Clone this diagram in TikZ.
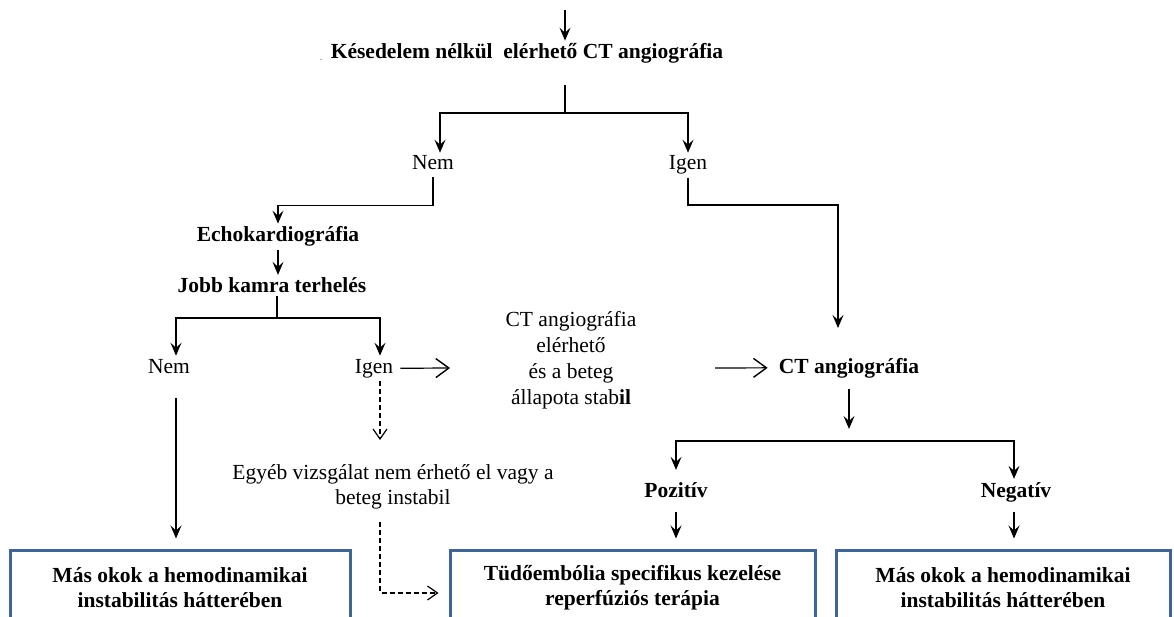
\documentclass[tikz,border=0pt]{standalone}
\usepackage{fontspec}
\setmainfont{Liberation Serif}
\usetikzlibrary{arrows.meta}
\definecolor{boxblue}{HTML}{3F6497}
\begin{document}
\begin{tikzpicture}[x=1pt,y=-1pt,
  lbl/.style={font=\fontsize{21.5}{25}\selectfont, inner sep=3pt, anchor=base},
  blbl/.style={lbl, font=\fontsize{21.5}{25}\selectfont\bfseries},
  ln/.style={line width=1.2pt},
  arr/.style={ln, -{Stealth[length=13pt,width=11pt,inset=5pt]}},
  harr/.style={ln, -{Straight Barb[length=13pt,width=19pt,line width=1.4pt]}},
  darr/.style={ln, line width=1.1pt, dash pattern=on 5pt off 3pt,
    -{Straight Barb[length=10pt,width=14pt,line width=1.2pt]}},
  outbox/.style={draw=boxblue, line width=3pt, fill=white, minimum height=76pt,
    align=center, font=\fontsize{21.5}{25}\selectfont\bfseries, inner sep=0pt},
]
\useasboundingbox (0,0) rectangle (1174,617);
\clip (0,0) rectangle (1174,617);

% text nodes
\node[blbl] (title) at (527,59) {Késedelem nélkül\ \ elérhető CT angiográfia};
\node[font=\fontsize{8}{8}\selectfont, inner sep=0pt] (dot) at (321,60) {.};
\node[lbl] (nem1) at (433,170) {Nem};
\node[lbl] (igen1) at (688,170) {Igen};
\node[blbl] (echo) at (278,242) {Echokardiográfia};
\node[blbl] (jobb) at (272,293) {Jobb kamra terhelés};
\node[lbl] (nem2) at (169,373) {Nem};
\node[lbl] (igen2) at (374,373) {Igen};
\node[font=\fontsize{21.5}{26}\selectfont, align=center, inner sep=3pt] (mid) at (571,360)
  {CT angiográfia\\elérhető\\és a beteg\\állapota stab\textbf{il}};
\node[blbl] (ctb) at (849,373) {CT angiográfia};
\node[font=\fontsize{21.5}{25}\selectfont, align=center, inner sep=3pt] (egyeb) at (393,487)
  {Egyéb vizsgálat nem érhető el vagy a\\beteg instabil};
\node[blbl] (poz) at (676,497) {Pozitív};
\node[blbl] (neg) at (1016,497) {Negatív};

% result boxes
\node[outbox, minimum width=340pt] (box1) at (180,588)
  {Más okok a hemodinamikai\\instabilitás hátterében};
\node[outbox, minimum width=365pt] (box2) at (632.5,588)
  {Tüdőembólia specifikus kezelése\\reperfúziós terápia};
\node[outbox, minimum width=334pt] (box3) at (1003,588)
  {Más okok a hemodinamikai\\instabilitás hátterében};

% junctions and free ends
\coordinate (s0) at (565,10);
\coordinate (j1) at (565,113);
\coordinate (j3) at (838,205);
\coordinate (c3) at (838,328);
\coordinate (j4) at (277,318);
\coordinate (m1) at (450,368);
\coordinate (m2) at (715,368);
\coordinate (j5) at (848,441);
\coordinate (d1) at (380,440);

% top part
\draw[arr] (s0) -- (s0 |- title.north);
\draw[ln] (j1 |- title.south) ++(0,18) -- (j1);
\draw[arr] (j1) -| ([xshift=7pt]nem1.north);
\draw[arr] (j1) -| (igen1.north);

% left branch
\draw[arr, shorten <=4pt] (nem1.south) -- ++(0,32) -| (echo.north);
\draw[arr] (echo.south) -- (echo.south |- jobb.north);
\draw[ln] (jobb.south -| j4) -- (j4);
\draw[arr] (j4) -| ([xshift=7pt]nem2.north);
\draw[arr] (j4) -| ([xshift=6pt]igen2.north);
\draw[arr, shorten <=22pt, shorten >=10pt] ([xshift=7pt]nem2.south) -- ([xshift=7pt]nem2.south |- box1.north);
\draw[harr] ([xshift=4pt]igen2.east) -- (m1);
\draw[harr, shorten >=8pt] (m2) -- (ctb.west);
\draw[darr] ([xshift=6pt]igen2.south) -- (d1);
\draw[darr, shorten <=10pt, shorten >=10pt] (egyeb.south -| d1) |- ([yshift=-5pt]box2.west);

% right branch
\draw[arr] (igen1.south) |- (j3) -- (c3);
\draw[arr] (ctb.south) ++(0,8) -- ++(0,40);
\draw[arr, shorten >=9pt] (j5) -| (poz.north);
\draw[arr] (j5) -| ([xshift=-2pt]neg.north);
\draw[arr, shorten <=12pt, shorten >=10pt] (poz.south) -- (poz.south |- box2.north);
\draw[arr, shorten <=7pt, shorten >=10pt] ([xshift=-2pt]neg.south) -- ([xshift=-2pt]neg.south |- box3.north);
\end{tikzpicture}
\end{document}
